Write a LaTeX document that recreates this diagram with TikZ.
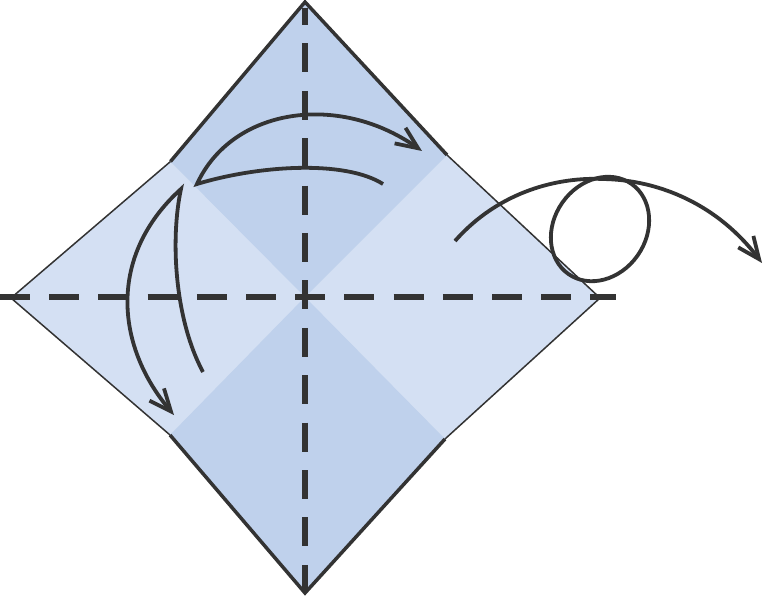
\documentclass[tikz,border=0pt]{standalone}
\usetikzlibrary{arrows.meta}
\definecolor{paperdark}{HTML}{BFD1EC}
\definecolor{paperlight}{HTML}{D4E0F3}
\definecolor{ink}{HTML}{333333}

\begin{document}
\begin{tikzpicture}[x=1pt, y=-1pt,
    crease/.style={ink, line width=5.5pt},
    edgethin/.style={ink, line width=1.5pt},
    edgethick/.style={ink, line width=3.5pt},
    foldline/.style={ink, line width=3.8pt},
    foldarrow/.style={foldline, -{Straight Barb[length=22pt, width=19pt, sharp]}}]
    \useasboundingbox (0,0) rectangle (763,596);
    % corners of the paper
    \coordinate (top)    at (305,2);
    \coordinate (ul)     at (170.5,161.5);
    \coordinate (left)   at (11,298);
    \coordinate (ll)     at (170,435);
    \coordinate (bottom) at (305,593);
    \coordinate (lr)     at (445,439);
    \coordinate (right)  at (600,298);
    \coordinate (ur)     at (447,155);
    \coordinate (mid)    at (305,297);
    % paper
    \fill[paperlight] (top) -- (ul) -- (left) -- (ll) -- (bottom) -- (lr) -- (right) -- (ur) -- cycle;
    \fill[paperdark] (top) -- (ul) -- (mid) -- (ur) -- cycle;
    \fill[paperdark] (bottom) -- (ll) -- (mid) -- (lr) -- cycle;
    % edges
    \draw[edgethin] (ul) -- (left) -- (ll);
    \draw[edgethin] (ur) -- (right) -- (lr);
    \draw[edgethick] (ul) -- (top) -- (ur);
    \draw[edgethick] (ll) -- (bottom) -- (lr);
    % creases
    \coordinate (hstart) at (0,297);
    \coordinate (hend)   at (616,297);
    \coordinate (vstart) at (305,8);
    \coordinate (vend)   at (305,592);
    \draw[crease, dash pattern=on 30pt off 19.2pt] (hstart) -- (hend);
    \draw[crease, dash pattern=on 29pt off 18.4pt, dash phase=12pt] (vstart) -- (vend);
    % fold over to the right
    \coordinate (tstart) at (383,184);
    \coordinate (tcusp)  at (197,184);
    \coordinate (ttip)   at (422,151);
    \draw[foldarrow] (tstart) .. controls (345,160) and (260,165) .. (tcusp)
        .. controls (232,108) and (338,92) .. (ttip);
    % fold down
    \coordinate (lstart) at (203,372);
    \coordinate (lcusp)  at (181,189);
    \coordinate (ltip)   at (174,415);
    \draw[foldarrow] (lstart) .. controls (175,320) and (170,240) .. (lcusp)
        .. controls (108,255) and (115,345) .. (ltip);
    % turn over
    \coordinate (rstart) at (455,241);
    \coordinate (rtop)   at (603,179);
    \coordinate (rtip)   at (762,263);
    \coordinate (loop)   at (600,229);
    \draw[foldarrow] (rstart) .. controls (500,190) and (560,177) .. (rtop)
        .. controls (660,180) and (718,205) .. (rtip);
    \draw[foldline, rotate around={55:(loop)}] (loop) ellipse [x radius=55pt, y radius=46pt];
\end{tikzpicture}
\end{document}
